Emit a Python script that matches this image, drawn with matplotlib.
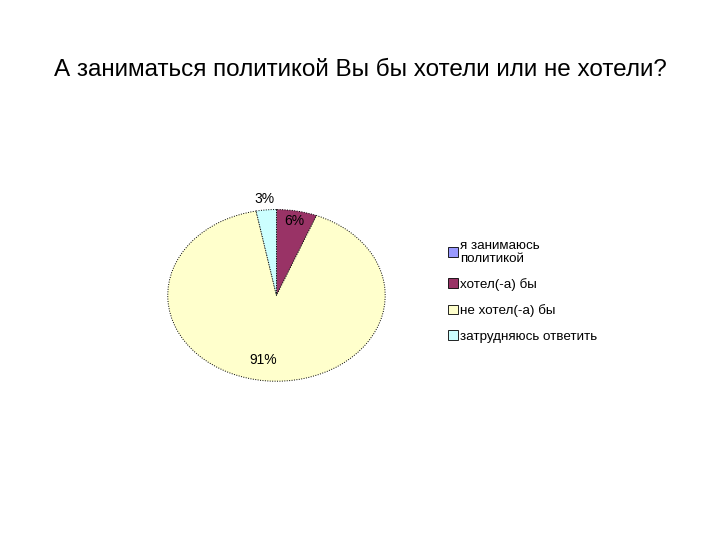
import matplotlib
matplotlib.use('Agg')
import matplotlib.pyplot as plt
from matplotlib.patches import Patch
import numpy as np

plt.rcParams['font.family'] = ['Liberation Sans', 'DejaVu Sans']

# data
categories = ['я занимаюсь\nполитикой', 'хотел(-а) бы', 'не хотел(-а) бы', 'затрудняюсь ответить']
values = [0, 6, 91, 3]
colors = ['#9999FF', '#993366', '#FFFFCC', '#CCFFFF']

fig = plt.figure(figsize=(7.2, 5.4), dpi=100)
fig.text(0.5, 0.87, 'А заниматься политикой Вы бы хотели или не хотели?',
         ha='center', va='center', fontsize=17.5)

ax = fig.add_axes([0.233, 0.294, 0.302, 0.318])
wedges, texts = ax.pie(values, colors=colors, startangle=90, counterclock=False,
                       wedgeprops=dict(edgecolor='black', linewidth=0.7, linestyle=(0, (1, 1.5))))
ax.set_aspect('auto')
ax.set_xlim(-1.0, 1.0)
ax.set_ylim(-1.0, 1.0)

# percentage labels
for w, v in zip(wedges, values):
    if v == 0:
        continue
    ang = np.deg2rad((w.theta1 + w.theta2) / 2)
    r = 1.13 if v < 5 else (0.88 if v < 50 else 0.76)
    if v > 50:
        ang = np.deg2rad(-99)
    ax.text(r * np.cos(ang), r * np.sin(ang), f'{v}%', ha='center', va='center',
            fontsize=10, clip_on=False)

handles = [Patch(facecolor=c, edgecolor='black', linewidth=0.6) for c in colors]
leg = fig.legend(handles, categories, loc='upper left', bbox_to_anchor=(0.615, 0.566),
                 frameon=False, fontsize=9.6, handlelength=0.75, handleheight=0.75,
                 handletextpad=0.15, labelspacing=1.0, borderaxespad=0)
leg.get_texts()[0].set_linespacing(1.1)

fig.savefig('out.png', dpi=100)
